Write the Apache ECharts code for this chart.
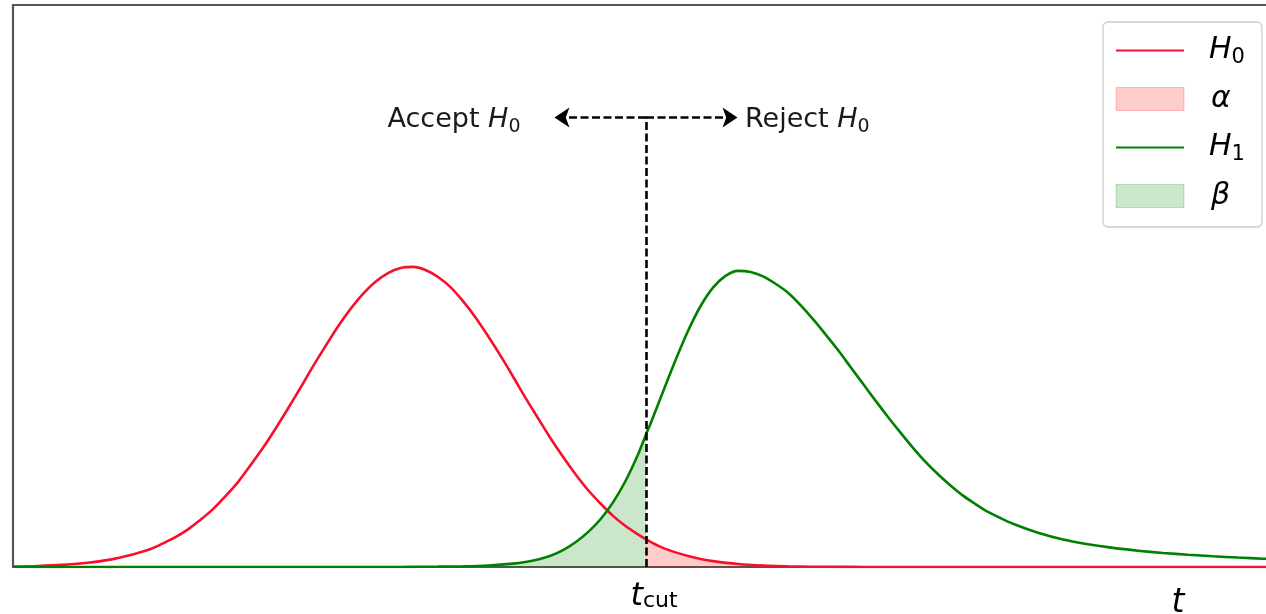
<!DOCTYPE html>
<html>
<head>
<meta charset="utf-8">
<script src="https://cdn.jsdelivr.net/npm/echarts@6/dist/echarts.min.js"></script>
<style>
html,body{margin:0;padding:0;background:#ffffff;}
#chart{width:1266px;height:614px;}
</style>
</head>
<body>
<div id="chart"></div>
<script>
// ---- data ----
const h0T = [0,0.5,1,1.5,2,2.25,2.5,2.75,3,3.25,3.5,3.75,4,4.25,4.5,4.75,5,5.25,5.5,5.75,6,6.25,6.5,6.75,7,7.25,7.5,7.75,8,8.25,8.5,8.75,9,9.25,9.5,9.75,10,10.25,10.5,10.75,11,11.25,11.5,11.75,12,12.25,12.5,12.66,12.75,13,13.25,13.5,13.75,14,14.5,15,15.5,16,16.5,17,17.5,18,18.5,19,19.5,20,20.5,21,21.5,22,22.5,23,23.5,24,24.5,25,25.5];
const h0Values = [0.0008,0.0018,0.0038,0.0075,0.014,0.019,0.025,0.032,0.042,0.053,0.067,0.084,0.103,0.126,0.151,0.181,0.212,0.246,0.282,0.319,0.357,0.393,0.428,0.459,0.486,0.5075,0.523,0.532,0.534,0.5285,0.516,0.498,0.473,0.444,0.411,0.376,0.339,0.301,0.265,0.229,0.196,0.165,0.137,0.113,0.091,0.073,0.058,0.049,0.0447,0.034,0.026,0.0195,0.0143,0.0104,0.0053,0.0026,0.0012,0.0005,0.0002,0.0001,0,0,0,0,0,0,0,0,0,0,0,0,0,0,0,0,0];
const h1T = [0,0.5,1,1.5,2,2.5,3,3.5,4,4.5,5,5.5,6,6.5,7,7.5,8,8.5,9,9.5,10,10.25,10.5,10.75,11,11.25,11.5,11.75,12,12.25,12.5,12.66,12.75,13,13.25,13.5,13.75,14,14.25,14.5,14.75,15,15.25,15.5,15.75,16,16.25,16.5,16.75,17,17.25,17.5,17.75,18,18.25,18.5,18.75,19,19.25,19.5,19.75,20,20.5,21,21.5,22,22.5,23,23.5,24,24.5,25,25.5];
const h1Values = [0,0,0,0,0,0,0,0,0,0,0,0,0,0,0,0,0.0003,0.0006,0.0013,0.0028,0.006,0.009,0.0135,0.020,0.030,0.044,0.062,0.085,0.115,0.153,0.200,0.236,0.255,0.312,0.368,0.420,0.464,0.497,0.518,0.527,0.525,0.517,0.504,0.488,0.466,0.441,0.414,0.386,0.356,0.326,0.296,0.267,0.239,0.212,0.187,0.165,0.145,0.127,0.112,0.098,0.087,0.077,0.061,0.049,0.0405,0.034,0.029,0.025,0.0218,0.0191,0.0168,0.0148,0.0131];
const tCut = 12.66;
const annotationY = 0.8;
const arrowHalfWidth = 1.83;
const acceptTextT = 10.15;
const rejectTextT = 14.64;
const axisTitleT = 23.3;
const legendNames = ['H0', 'alpha', 'H1', 'beta'];
const legendLabels = {H0: '{i|H}{s|0}', alpha: '{g|α}', H1: '{i|H}{s|1}', beta: '{g|β}'};
const annotationTexts = {accept: 'Accept {i|H}{s|0}', reject: 'Reject {i|H}{s|0}'};
const cutLabel = '{i|t}{s|cut}';
const axisTitle = 't';

// ---- build series tables ----
const h0Pairs = h0T.map((t, i) => [t, h0Values[i]]);
const h1Pairs = h1T.map((t, i) => [t, h1Values[i]]);
const betaPairs = h1Pairs.filter(p => p[0] <= tCut);
const alphaPairs = h0Pairs.filter(p => p[0] >= tCut);

const RED = '#f7102b';
const GREEN = '#008000';
const FONT = 'DejaVu Sans';
const SPINE = {show: true, lineStyle: {color: '#555', width: 2.2}};
const SMOOTH = 0.3;

const chart = echarts.init(document.getElementById('chart'), null, {renderer: 'canvas'});

const dashStyle = {color: '#000', width: 2.6, type: [8, 3.5]};

const option = {
  animation: false,
  backgroundColor: '#ffffff',
  grid: {left: 13, right: 0, top: 5, bottom: 47, show: false},
  xAxis: [
    {
      type: 'value', min: 0, max: 25.06, position: 'bottom',
      axisLine: SPINE, axisTick: {show: false}, splitLine: {show: false},
      axisLabel: {
        customValues: [tCut],
        formatter: () => cutLabel,
        margin: 11,
        rich: {
          i: {fontStyle: 'italic', fontSize: 32, fontFamily: FONT, color: '#000', lineHeight: 38, padding: [0, 0, 0, 16]},
          s: {fontSize: 22, fontFamily: FONT, color: '#000', lineHeight: 38, padding: [8, 0, 0, 0]}
        }
      }
    },
    {
      type: 'value', min: 0, max: 25.06, position: 'top',
      axisLine: SPINE, axisTick: {show: false}, axisLabel: {show: false}, splitLine: {show: false}
    }
  ],
  yAxis: {
    type: 'value', min: 0, max: 1, position: 'left',
    axisLine: SPINE, axisTick: {show: false}, axisLabel: {show: false}, splitLine: {show: false}
  },
  legend: {
    data: [
      {name: legendNames[0], itemStyle: {opacity: 0}},
      {name: legendNames[1], icon: 'rect', itemStyle: {color: 'rgba(255,0,0,0.2)', borderColor: 'rgba(255,0,0,0.22)', borderWidth: 1}},
      {name: legendNames[2], itemStyle: {opacity: 0}},
      {name: legendNames[3], icon: 'rect', itemStyle: {color: 'rgba(0,128,0,0.2)', borderColor: 'rgba(0,128,0,0.22)', borderWidth: 1}}
    ],
    orient: 'vertical', left: 1103, top: 22,
    itemWidth: 68, itemHeight: 23, itemGap: 16,
    padding: [11, 17, 16, 12],
    backgroundColor: '#ffffff', borderColor: '#cccccc', borderWidth: 1.3, borderRadius: 5,
    selectedMode: false,
    formatter: name => legendLabels[name],
    textStyle: {
      fontSize: 30, color: '#000', fontFamily: FONT,
      rich: {
        i: {fontStyle: 'italic', fontSize: 30, fontFamily: FONT, color: '#000', lineHeight: 36, padding: [0, 0, 0, 20]},
        s: {fontSize: 21, fontFamily: FONT, color: '#000', lineHeight: 36, padding: [14, 0, 0, 0]},
        g: {fontStyle: 'italic', fontSize: 30, fontFamily: FONT, color: '#000', lineHeight: 36, padding: [0, 0, 0, 22]}
      }
    }
  },
  series: [
    {
      name: 'alpha', type: 'line', data: alphaPairs, symbol: 'none', smooth: SMOOTH, silent: true,
      lineStyle: {width: 0}, areaStyle: {color: 'rgba(255,0,0,0.2)', opacity: 1}, z: 1
    },
    {
      name: 'beta', type: 'line', data: betaPairs, symbol: 'none', smooth: SMOOTH, silent: true,
      lineStyle: {width: 0}, areaStyle: {color: 'rgba(0,128,0,0.2)', opacity: 1}, z: 1
    },
    {
      name: 'H0', type: 'line', data: h0Pairs, symbol: 'none', smooth: SMOOTH, silent: true,
      color: RED, lineStyle: {color: RED, width: 2.6}, z: 3
    },
    {
      name: 'H1', type: 'line', data: h1Pairs, symbol: 'none', smooth: SMOOTH, silent: true,
      color: GREEN, lineStyle: {color: GREEN, width: 2.6}, z: 4,
      markLine: {
        silent: true, z: 6, animation: false,
        symbol: ['none', 'arrow'], symbolSize: 15,
        label: {show: false},
        lineStyle: dashStyle,
        emphasis: {disabled: true},
        data: [
          [{coord: [tCut, 0], symbol: 'none'}, {coord: [tCut, annotationY], symbol: 'none'}],
          [{coord: [tCut, annotationY], symbol: 'none'}, {coord: [tCut - arrowHalfWidth, annotationY], symbol: 'arrow'}],
          [{coord: [tCut, annotationY], symbol: 'none'}, {coord: [tCut + arrowHalfWidth, annotationY], symbol: 'arrow'}]
        ]
      }
    }
  ]
};
chart.setOption(option);

const toPx = (x, y) => chart.convertToPixel({gridIndex: 0}, [x, y]);
const annRich = {
  i: {fontStyle: 'italic', fontSize: 27, fontFamily: FONT, fill: '#1a1a1a'},
  s: {fontSize: 19, fontFamily: FONT, fill: '#1a1a1a', padding: [13, 0, 0, 0]}
};
const pAccept = toPx(acceptTextT, annotationY);
const pReject = toPx(rejectTextT, annotationY);
const pTitle = toPx(axisTitleT, 0);
chart.setOption({
  graphic: [
    {type: 'text', x: pAccept[0], y: pAccept[1] + 3, silent: true, z: 10,
     style: {text: annotationTexts.accept, fontSize: 27, fontFamily: FONT, fill: '#1a1a1a', align: 'right', verticalAlign: 'middle', rich: annRich}},
    {type: 'text', x: pReject[0], y: pReject[1] + 3, silent: true, z: 10,
     style: {text: annotationTexts.reject, fontSize: 27, fontFamily: FONT, fill: '#1a1a1a', align: 'left', verticalAlign: 'middle', rich: annRich}},
    {type: 'text', x: pTitle[0], y: pTitle[1] + 36, silent: true, z: 10,
     style: {text: axisTitle, fontSize: 33, fontStyle: 'italic', fontFamily: FONT, fill: '#000', align: 'center', verticalAlign: 'middle'}}
  ]
});
</script>
</body>
</html>
